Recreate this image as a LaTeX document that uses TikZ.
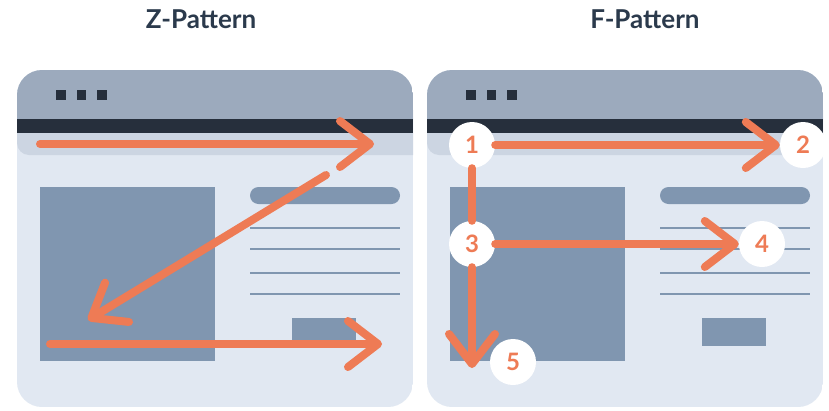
\documentclass[tikz,border=0pt]{standalone}
\usepackage{fontspec}
\setmainfont{Lato}
\usepackage{tikz}
\usetikzlibrary{arrows.meta}
\usetikzlibrary{positioning}
\definecolor{winhead}{HTML}{9CAABD}
\definecolor{winbar}{HTML}{262F3C}
\definecolor{winband}{HTML}{CCD5E2}
\definecolor{winbody}{HTML}{E1E8F2}
\definecolor{block}{HTML}{8096B0}
\definecolor{eyeorange}{HTML}{EE7B55}
\definecolor{ttlcol}{HTML}{2B3A4C}
\tikzset{eye/.style={draw=eyeorange,line width=8pt,line cap=round,-{Straight Barb[length=30pt,width=46pt,round]}}}
\tikzset{trail/.style={draw=eyeorange,line width=8pt,line cap=round}}
\tikzset{num/.style={circle,fill=white,minimum size=46pt,inner sep=0pt,text=eyeorange,font=\fontsize{24}{24}\selectfont\bfseries}}
\tikzset{ttl/.style={anchor=base,text=ttlcol,font=\fontsize{26}{26}\selectfont\bfseries}}

\begin{document}
\begin{tikzpicture}[x=1pt,y=-1pt]

\useasboundingbox[fill=white] (0,0) rectangle (829,410);

% browser windows
\foreach \ox in {0,410} {
\begin{scope}[xshift=\ox]
  \begin{scope}
    \clip[rounded corners=25pt] (17,70) rectangle (413,407);
    \fill[winbody] (17,70) rectangle (413,407);
    \fill[winband,rounded corners=12pt] (17,110) rectangle (440,155);
    \fill[winhead] (17,70) rectangle (413,119);
    \fill[winbar] (17,119) rectangle (413,133);
  \end{scope}
  \foreach \d in {0,1,2}
    \fill[winbar] (56+20.5*\d,90) rectangle +(9.5,10);
  \fill[block] (40,187) rectangle (215,361);
  \fill[block,rounded corners=8.5pt] (250,187) rectangle (400,204);
  \foreach \y in {228,249,273,294}
    \draw[block,line width=1.5pt] (250,\y) -- (400,\y);
  \fill[block] (292,318) rectangle (356,346);
\end{scope}
}

\node[ttl] (zt) at (201,28) {Z-Pattern};
\node[ttl] (ft) at (645,28) {F-Pattern};

% Z-pattern
\coordinate (z1s) at (40,144);
\coordinate (z1e) at (374,144);
\coordinate (z2s) at (326,175);
\coordinate (z2e) at (88,320);
\coordinate (z3s) at (50,344);
\coordinate (z3e) at (382,344);

\draw[eye] (z1s) -- (z1e);
\draw[eye] (z2s) -- (z2e);
\draw[eye] (z3s) -- (z3e);

% F-pattern
\node[num] (n1) at (472,145) {1};
\node[num] (n2) at (803,145) {2};
\node[num] (n3) at (472,244) {3};
\node[num] (n4) at (762,244) {4};
\node[num] (n5) at (513,362) {5};
\coordinate (t5) at (472,368);

\draw[eye] (n1) -- (n2);
\draw[trail] (n1) -- (n3);
\draw[eye] (n3) -- (n4);
\draw[eye] (n3) -- (t5);

\end{tikzpicture}
\end{document}
